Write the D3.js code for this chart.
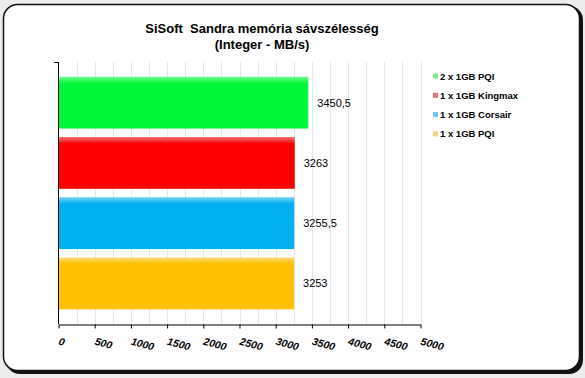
<!DOCTYPE html>
<meta charset="utf-8">
<script src="https://d3js.org/d3.v7.min.js"></script>
<style>
  body { margin: 0; background: #ececec; }
  text { font-family: Arial, "Liberation Sans", sans-serif; }
</style>
<div id="chart"></div>
<script>
// data
var series = ["2 x 1GB PQI", "1 x 1GB Kingmax", "1 x 1GB Corsair", "1 x 1GB PQI"];
var values = [3450.5, 3263, 3255.5, 3253];
var valueLabels = ["3450,5", "3263", "3255,5", "3253"];
var barColors = ["#00f73a", "#ff0000", "#00b0f0", "#ffc000"];
var legendColors = ["#7ee88f", "#e87272", "#6cc8ec", "#f2d680"];
var ticks = [0, 500, 1000, 1500, 2000, 2500, 3000, 3500, 4000, 4500, 5000];

var W = 585, H = 378;
var svg = d3.select("#chart").append("svg")
  .attr("width", W).attr("height", H);

// frame with shadow
svg.append("rect")
  .attr("x", 6).attr("y", 6).attr("width", 577).attr("height", 368)
  .attr("rx", 14).attr("ry", 14)
  .style("fill", "#111");
svg.append("rect")
  .attr("x", 3.5).attr("y", 4.5).attr("width", 576).attr("height", 366)
  .attr("rx", 14).attr("ry", 14)
  .style("fill", "white").style("stroke", "#111").style("stroke-width", 1.5);

// title
svg.append("text")
  .attr("x", 262).attr("y", 33)
  .attr("text-anchor", "middle")
  .style("white-space", "pre")
  .style("font-size", "13px").style("font-weight", "bold")
  .text("SiSoft  Sandra memória sávszélesség");
svg.append("text")
  .attr("x", 262).attr("y", 49)
  .attr("text-anchor", "middle")
  .style("font-size", "13px").style("font-weight", "bold")
  .text("(Integer - MB/s)");

// scales
var x = d3.scaleLinear().domain([0, 5000]).range([58.5, 420.5]);
var y = d3.scaleBand().domain(series).range([72.5, 313.5])
  .paddingInner(0.14).paddingOuter(0.07);
var plotTop = 62, plotBottom = 324;

// gridlines every 250
var grid = d3.range(250, 5001, 250);
svg.append("g").selectAll("line").data(grid).enter().append("line")
  .attr("x1", function(d) { return Math.round(x(d)) + 0.5; })
  .attr("x2", function(d) { return Math.round(x(d)) + 0.5; })
  .attr("y1", plotTop).attr("y2", plotBottom)
  .style("stroke", "#e6e6e6").style("stroke-width", 1);

// bar gradients
var defs = svg.append("defs");
barColors.forEach(function(c, i) {
  var g = defs.append("linearGradient").attr("id", "grad" + i)
    .attr("x1", 0).attr("y1", 0).attr("x2", 0).attr("y2", 1);
  g.append("stop").attr("offset", "0%").attr("stop-color", d3.interpolateRgb(c, "white")(0.45));
  g.append("stop").attr("offset", "13%").attr("stop-color", c);
  g.append("stop").attr("offset", "100%").attr("stop-color", c);
});

svg.append("g").selectAll("rect").data(series).enter().append("rect")
  .attr("x", x(0))
  .attr("y", function(d) { return y(d); })
  .attr("width", function(d, i) { return x(values[i]) - x(0); })
  .attr("height", y.bandwidth())
  .style("fill", function(d, i) { return "url(#grad" + i + ")"; });

// value labels
svg.append("g").selectAll("text").data(series).enter().append("text")
  .attr("x", function(d, i) { return x(values[i]) + 9; })
  .attr("y", function(d) { return y(d) + y.bandwidth() / 2 + 4; })
  .style("font-size", "11px")
  .text(function(d, i) { return valueLabels[i]; });

// y axis line
svg.append("line")
  .attr("x1", 58.5).attr("x2", 58.5).attr("y1", plotTop).attr("y2", plotBottom)
  .style("stroke", "black");
svg.append("line")
  .attr("x1", 54).attr("x2", 58.5).attr("y1", plotTop + 0.5).attr("y2", plotTop + 0.5)
  .style("stroke", "black");

// x axis
var xAxis = svg.append("g")
  .attr("transform", "translate(0," + (plotBottom + 0.5) + ")")
  .call(d3.axisBottom(x).tickValues(ticks).tickSize(4).tickSizeOuter(0).tickFormat(d3.format("d")));
xAxis.select(".domain").style("stroke", "black");
xAxis.selectAll(".tick line").style("stroke", "black");
xAxis.selectAll("text")
  .style("font-size", "10.5px").style("font-weight", "bold").style("font-style", "italic")
  .style("font-family", "Arial, 'Liberation Sans', sans-serif")
  .attr("text-anchor", "start")
  .attr("dy", null)
  .attr("y", 0)
  .attr("transform", "translate(-1,20) rotate(15)");

// legend
var legend = svg.append("g").selectAll("g").data(series).enter().append("g")
  .attr("transform", function(d, i) { return "translate(433," + (76 + i * 19.3) + ")"; });
legend.append("rect")
  .attr("x", 0).attr("y", -2.5).attr("width", 5).attr("height", 5)
  .style("fill", function(d, i) { return legendColors[i]; });
legend.append("text")
  .attr("x", 7).attr("y", 3.5)
  .style("font-size", "9.5px").style("font-weight", "bold")
  .text(function(d) { return d; });
</script>
